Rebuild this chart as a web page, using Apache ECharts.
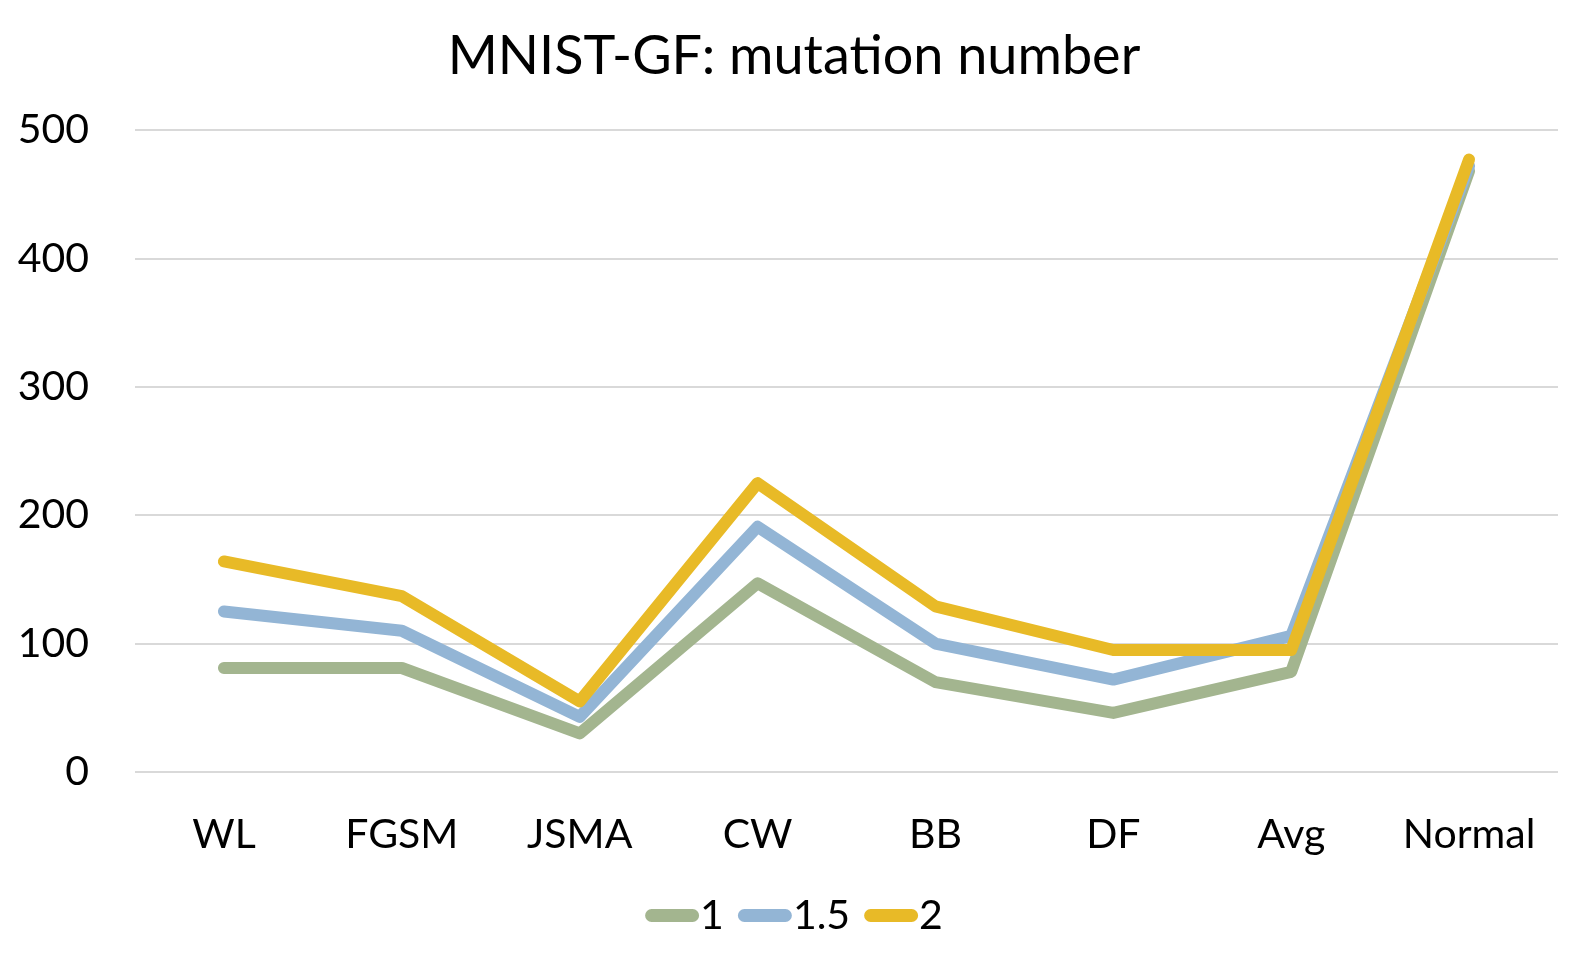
<!DOCTYPE html>
<html>
<head>
<meta charset="utf-8">
<script src="https://cdn.jsdelivr.net/npm/echarts@6/dist/echarts.min.js"></script>
<style>
  html, body { margin: 0; padding: 0; background: #fff; }
  #main { width: 1588px; height: 967px; }
</style>
</head>
<body>
<div id="main"></div>
<script>
// categories and series values
var Categories = ['WL', 'FGSM', 'JSMA', 'CW', 'BB', 'DF', 'Avg', 'Normal'];
var SeriesNames = ['1', '1.5', '2'];
var Values1 = [81, 81, 30, 147, 70, 46, 78, 468];
var Values15 = [125, 110, 43, 191, 100, 72, 106, 472];
var Values2 = [164, 137, 55, 225, 129, 95, 95, 477];
var YTicks = [0, 100, 200, 300, 400, 500];

var Colors = ['#a3b58f', '#93b5d5', '#e8ba27'];
var font = 'Lato, "Open Sans", sans-serif';
var pill = 'path://M6,0 L44,0 A6,6 0 0 1 44,12 L6,12 A6,6 0 0 1 6,0 Z';

function line(name, data, color) {
    return {
        name: name,
        type: 'line',
        data: data,
        showSymbol: false,
        symbol: 'none',
        lineStyle: { width: 12, color: color, cap: 'round', join: 'round' },
        itemStyle: { color: color },
        emphasis: { disabled: true }
    };
}

var myChart = echarts.init(document.getElementById('main'));
myChart.setOption({
    color: Colors,
    animation: false,
    title: {
        text: 'MNIST-GF: mutation number',
        left: 'center',
        top: 25,
        textStyle: { color: '#000', fontSize: 54, fontWeight: 'normal', fontFamily: font }
    },
    legend: {
        bottom: 26,
        left: 'center',
        itemWidth: 54,
        itemHeight: 14,
        itemGap: 14,
        icon: pill,
        textStyle: { color: '#000', fontSize: 41, fontFamily: font, padding: [0, 0, 0, -4] },
        data: SeriesNames
    },
    grid: { left: 135, right: 30, top: 130, bottom: 195, containLabel: false },
    xAxis: {
        type: 'category',
        data: Categories,
        boundaryGap: true,
        axisLine: { show: false },
        axisTick: { show: false },
        axisLabel: { color: '#000', fontSize: 41, fontFamily: font, margin: 42 }
    },
    yAxis: {
        type: 'value',
        min: YTicks[0],
        max: YTicks[YTicks.length - 1],
        interval: 100,
        axisLine: { show: false },
        axisTick: { show: false },
        axisLabel: { color: '#000', fontSize: 41, fontFamily: font, margin: 46 },
        splitLine: { lineStyle: { color: '#d9d9d9', width: 2 } }
    },
    series: [
        line(SeriesNames[0], Values1, Colors[0]),
        line(SeriesNames[1], Values15, Colors[1]),
        line(SeriesNames[2], Values2, Colors[2])
    ]
});
</script>
</body>
</html>
